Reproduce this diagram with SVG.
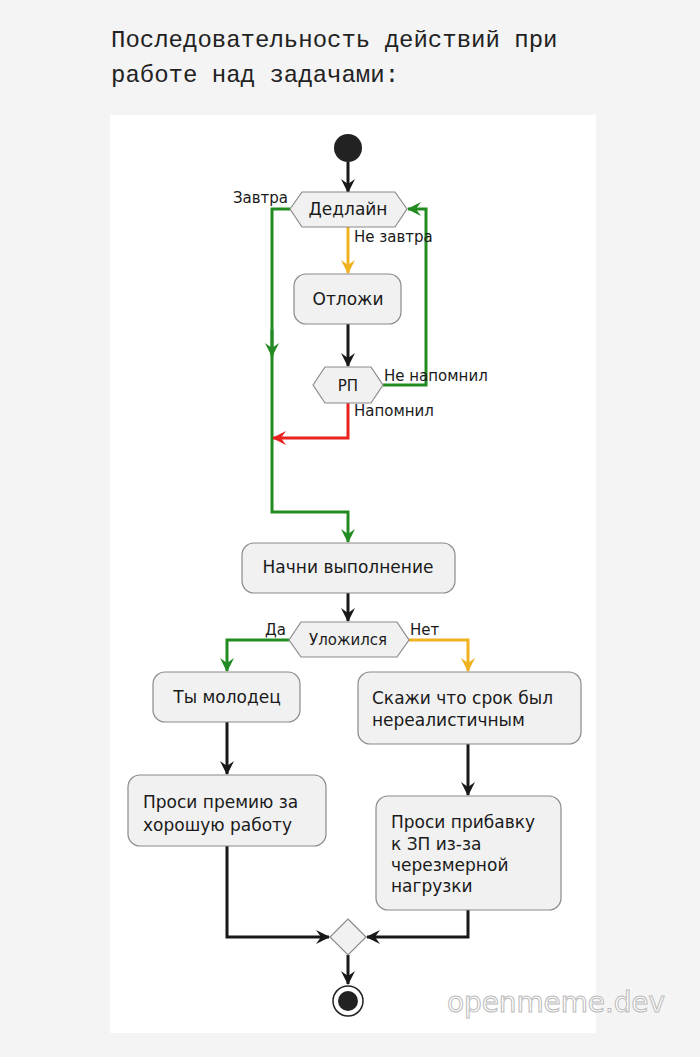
<svg xmlns="http://www.w3.org/2000/svg" width="700" height="1057" viewBox="0 0 700 1057">
<defs>
<style>
.n{fill:#f1f1f1;stroke:#8a8a8a;stroke-width:1.2}
.t{font-family:"DejaVu Sans",sans-serif;font-size:17px;fill:#1a1a1a;text-anchor:middle}
.l{font-family:"DejaVu Sans",sans-serif;font-size:15px;fill:#1a1a1a}
.b{font-family:"DejaVu Sans",sans-serif;font-size:17px;fill:#1a1a1a}
.c{fill:none;stroke-width:3}
.k{stroke:#181818}.g{stroke:#228b22}.o{stroke:#f0b21e}.r{stroke:#e8231f}
</style>
<marker id="mk" viewBox="0 0 14 14" refX="13" refY="7" markerWidth="14" markerHeight="14" markerUnits="userSpaceOnUse" orient="auto"><path d="M0,0 L14,7 L0,14 L5,7 Z" fill="#181818"/></marker>
<marker id="mg" viewBox="0 0 14 14" refX="13" refY="7" markerWidth="14" markerHeight="14" markerUnits="userSpaceOnUse" orient="auto"><path d="M0,0 L14,7 L0,14 L5,7 Z" fill="#228b22"/></marker>
<marker id="mo" viewBox="0 0 14 14" refX="13" refY="7" markerWidth="14" markerHeight="14" markerUnits="userSpaceOnUse" orient="auto"><path d="M0,0 L14,7 L0,14 L5,7 Z" fill="#f0b21e"/></marker>
<marker id="mr" viewBox="0 0 14 14" refX="13" refY="7" markerWidth="14" markerHeight="14" markerUnits="userSpaceOnUse" orient="auto"><path d="M0,0 L14,7 L0,14 L5,7 Z" fill="#e8231f"/></marker>
</defs>
<rect width="700" height="1057" fill="#f4f4f4"/>
<rect x="110" y="115" width="486" height="918" fill="#ffffff"/>
<text font-family="Liberation Mono,monospace" font-size="24" fill="#222"><tspan x="111" y="47">Последовательность действий при</tspan><tspan x="111" y="82">работе над задачами:</tspan></text>
<g id="connectors">
<path class="c k" d="M348,162 V192" marker-end="url(#mk)"/>
<path class="c g" d="M290,209 H272 V512 H348 V542" marker-end="url(#mg)"/>
<path class="c g" d="M272,330 V356" marker-end="url(#mg)"/>
<path class="c o" d="M348,227 V273" marker-end="url(#mo)"/>
<path class="c k" d="M348,324 V366" marker-end="url(#mk)"/>
<path class="c g" d="M383,385 H426 V209 H408" marker-end="url(#mg)"/>
<path class="c r" d="M348,403 V438 H273" marker-end="url(#mr)"/>
<path class="c k" d="M348,593 V621" marker-end="url(#mk)"/>
<path class="c g" d="M289,640 H227 V671" marker-end="url(#mg)"/>
<path class="c o" d="M409,640 H468 V671" marker-end="url(#mo)"/>
<path class="c k" d="M227,722 V774" marker-end="url(#mk)"/>
<path class="c k" d="M468,744 V795" marker-end="url(#mk)"/>
<path class="c k" d="M227,846 V937 H329" marker-end="url(#mk)"/>
<path class="c k" d="M468,910 V937 H367" marker-end="url(#mk)"/>
<path class="c k" d="M348,955 V984" marker-end="url(#mk)"/>
<text class="l" x="288" y="203" text-anchor="end">Завтра</text>
<text class="l" x="354" y="242">Не завтра</text>
<text class="l" x="384" y="381">Не напомнил</text>
<text class="l" x="354" y="416">Напомнил</text>
<text class="l" x="286" y="635" text-anchor="end">Да</text>
<text class="l" x="410" y="635">Нет</text>
</g>
<g id="start"><circle cx="348" cy="148" r="14" fill="#222"/></g>
<g id="deadline"><polygon class="n" points="290,209 302,192 395,192 407,209 395,227 302,227"/><text class="t" x="348" y="215">Дедлайн</text></g>
<g id="postpone"><rect class="n" x="294" y="274" width="107" height="50" rx="12"/><text class="t" x="348" y="305">Отложи</text></g>
<g id="rp"><polygon class="n" points="313,385 325,367 371,367 383,385 371,403 325,403"/><text class="t" x="348" y="391" style="font-size:15px">РП</text></g>
<g id="begin"><rect class="n" x="242" y="543" width="213" height="50" rx="12"/><text class="t" x="348" y="573">Начни выполнение</text></g>
<g id="fit"><polygon class="n" points="289,640 301,622 397,622 409,640 397,657 301,657"/><text class="t" x="348" y="645" style="font-size:15px">Уложился</text></g>
<g id="good"><rect class="n" x="153" y="672" width="147" height="50" rx="12"/><text class="t" x="227" y="703">Ты молодец</text></g>
<g id="unreal"><rect class="n" x="358" y="672" width="223" height="72" rx="12"/><text class="b"><tspan x="372" y="704">Скажи что срок был</tspan><tspan x="372" y="726">нереалистичным</tspan></text></g>
<g id="bonus"><rect class="n" x="128" y="775" width="198" height="71" rx="12"/><text class="b"><tspan x="143" y="808">Проси премию за</tspan><tspan x="143" y="831">хорошую работу</tspan></text></g>
<g id="raise"><rect class="n" x="376" y="796" width="185" height="114" rx="12"/><text class="b"><tspan x="391" y="828">Проси прибавку</tspan><tspan x="391" y="850">к ЗП из-за</tspan><tspan x="391" y="871">черезмерной</tspan><tspan x="391" y="892">нагрузки</tspan></text></g>
<g id="merge"><polygon class="n" points="348,919 366,937 348,955 330,937"/></g>
<g id="end"><circle cx="348" cy="1001" r="15" fill="#fff" stroke="#222" stroke-width="1.5"/><circle cx="348" cy="1001" r="10" fill="#222"/></g>
<text x="447" y="1012" textLength="218" font-family="DejaVu Sans,sans-serif" font-size="28" fill="#fff" stroke="#bbb" stroke-width="1">openmeme.dev</text>
</svg>
